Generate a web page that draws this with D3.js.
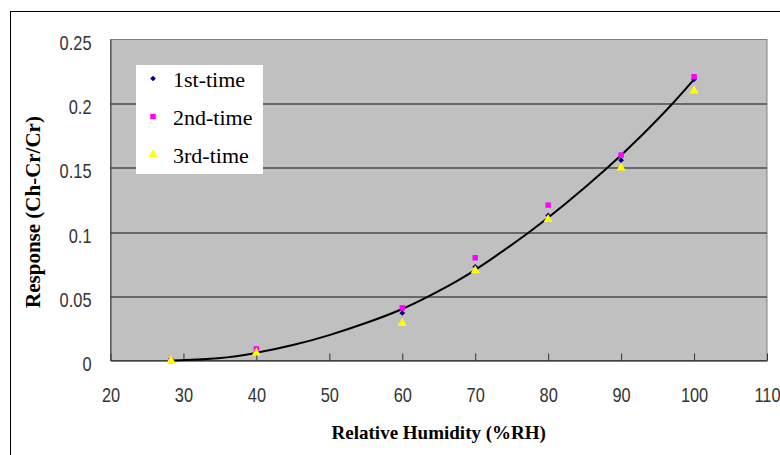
<!DOCTYPE html>
<html>
<head>
<meta charset="utf-8">
<script src="https://cdn.jsdelivr.net/npm/d3@7"></script>
<style>
  body { margin: 0; background: #fff; }
  .tick-label { font-family: "Liberation Sans", Arial, sans-serif; font-size: 20px; fill: #333; }
  .title { font-family: "Liberation Serif", "Times New Roman", serif; font-weight: bold; font-size: 19px; fill: #000; }
  .legend-text { font-family: "Liberation Serif", "Times New Roman", serif; font-size: 22px; fill: #000; }
</style>
</head>
<body>
<script>
//data
const humidity = [28.3, 40, 60, 70, 80, 90, 100]
const firstTime = [0, 0.007, 0.037, 0.073, 0.113, 0.156, 0.219]
const secondTime = [0, 0.009, 0.041, 0.080, 0.121, 0.160, 0.221]
const thirdTime = [0, 0.006, 0.029, 0.070, 0.110, 0.150, 0.210]

//trendline
const trendX = [28.5, 35, 40, 45, 50, 55, 60, 64, 68, 72, 77.5, 82, 88.2, 93, 97.1, 100]
const trendY = [0, 0.0013, 0.0057, 0.0117, 0.0195, 0.029, 0.0396, 0.051, 0.063, 0.078, 0.1, 0.120, 0.15, 0.176, 0.2, 0.219]

const xTicks = [20, 30, 40, 50, 60, 70, 80, 90, 100, 110]
const yTicks = [0, 0.05, 0.1, 0.15, 0.2, 0.25]
const yTickLabels = ["0", "0.05", "0.1", "0.15", "0.2", "0.25"]
const seriesNames = ["1st-time", "2nd-time", "3rd-time"]

//Margin Convention
const margin = {top: 39.5, right: 13, bottom: 94.5, left: 110.5}
const width = 780 - margin.left - margin.right
const height = 455 - margin.top - margin.bottom
const narrow = 0.82 // squeeze for the narrow tick font

const x = d3.scaleLinear().domain([20, 110]).range([0, width])
const y = d3.scaleLinear().domain([0, 0.25]).range([height, 0])

const svg = d3.select("body").append("svg")
  .attr("width", 780)
  .attr("height", 455)

//outer chart border
svg.append("rect")
  .attr("x", 10.5)
  .attr("y", 11.5)
  .attr("width", 800)
  .attr("height", 500)
  .attr("fill", "#fff")
  .attr("stroke", "#000")
  .attr("stroke-width", 1)

const g = svg.append("g")
  .attr("transform", "translate(" + margin.left + "," + margin.top + ")")

//plot area
g.append("rect")
  .attr("width", width)
  .attr("height", height)
  .attr("fill", "#c0c0c0")
  .attr("stroke", "#808080")
  .attr("stroke-width", 1)

//gridlines
g.selectAll(".grid")
  .data(yTicks.filter(d => d > 0 && d < 0.25))
  .enter()
  .append("line")
  .attr("class", "grid")
  .attr("x1", 0)
  .attr("x2", width)
  .attr("y1", d => Math.round(y(d)) + 0.5)
  .attr("y2", d => Math.round(y(d)) + 0.5)
  .attr("stroke", "#111")

//x axis
const xAxis = g.append("g")
  .attr("transform", "translate(0," + height + ")")
  .call(d3.axisBottom(x).tickValues(xTicks).tickSizeInner(-7).tickSizeOuter(0).tickPadding(27))
xAxis.select(".domain").attr("stroke", "#000")
xAxis.selectAll("line").attr("stroke", "#333")
xAxis.selectAll("text")
  .attr("class", "tick-label")
  .attr("fill", null)
  .attr("transform", "scale(" + narrow + ",1)")

//y axis
const yAxis = g.append("g")
  .call(d3.axisLeft(y).tickValues(yTicks).tickFormat((d, i) => yTickLabels[i]).tickSize(0).tickPadding(19))
yAxis.select(".domain").attr("stroke", "#404040")
yAxis.selectAll("text")
  .attr("class", "tick-label")
  .attr("fill", null)
  .attr("dy", "0.5em")
  .attr("x", -19 / narrow)
  .attr("transform", "scale(" + narrow + ",1)")

//trendline
const line = d3.line()
  .x((d, i) => x(trendX[i]))
  .y(d => y(d))
  .curve(d3.curveBasis)

g.append("path")
  .datum(trendY)
  .attr("d", line)
  .attr("fill", "none")
  .attr("stroke", "#000")
  .attr("stroke-width", 2)

//markers
const diamond = d3.symbol().type(d3.symbolSquare).size(16)
const square = d3.symbol().type(d3.symbolSquare).size(30)
const triangle = d3.symbol().type(d3.symbolTriangle).size(36)

function drawSeries(values, symbol, color, rot) {
  g.append("g")
    .selectAll("path")
    .data(values)
    .enter()
    .append("path")
    .attr("d", symbol)
    .attr("fill", color)
    .attr("transform", (d, i) => "translate(" + x(humidity[i]) + "," + y(d) + ") rotate(" + rot + ")")
}
drawSeries(firstTime, diamond, "#000080", 45)
drawSeries(secondTime, square, "#ff00ff", 0)
drawSeries(thirdTime, triangle, "#ffff00", 0)

//legend
const legend = svg.append("g")
  .attr("transform", "translate(136,65)")

legend.append("rect")
  .attr("width", 127)
  .attr("height", 109)
  .attr("fill", "#fff")

const legendSymbols = [diamond, square, triangle]
const legendColors = ["#000080", "#ff00ff", "#ffff00"]
const legendRot = [45, 0, 0]

seriesNames.forEach(function(name, i) {
  legend.append("path")
    .attr("d", legendSymbols[i])
    .attr("fill", legendColors[i])
    .attr("transform", "translate(17," + (13.5 + i * 38) + ") rotate(" + legendRot[i] + ")")
  legend.append("text")
    .attr("class", "legend-text")
    .attr("x", 37)
    .attr("y", 21.5 + i * 38)
    .text(name)
})

//axis titles
svg.append("text")
  .attr("class", "title")
  .attr("x", margin.left + width / 2)
  .attr("y", 439)
  .attr("text-anchor", "middle")
  .text("Relative Humidity (%RH)")

svg.append("text")
  .attr("class", "title")
  .attr("transform", "translate(40,212) rotate(-90)")
  .attr("text-anchor", "middle")
  .style("font-size", "21px")
  .text("Response (Ch-Cr/Cr)")
</script>
</body>
</html>
